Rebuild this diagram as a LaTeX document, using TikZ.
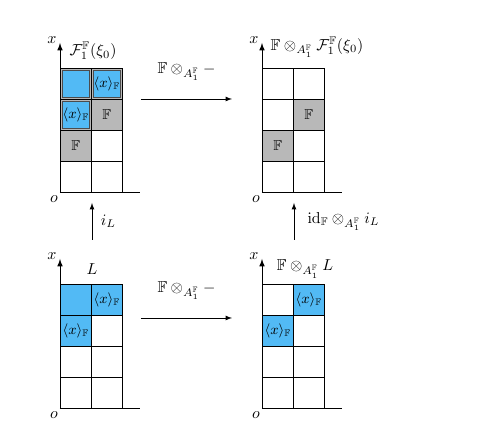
\documentclass[tikz,border=0pt]{standalone}
\usepackage{amsmath,amssymb}
\definecolor{cellblue}{RGB}{82,186,245}
\definecolor{cellgray}{RGB}{184,184,184}
\begin{document}
\begin{tikzpicture}[x=0.63pt,y=-0.63pt,
    cellbox/.style={draw=black,line width=0.4pt,minimum size=19.53pt,inner sep=0pt,anchor=north west,font=\small},
    bluecell/.style={cellbox,fill=cellblue},
    graycell/.style={cellbox,fill=cellgray},
    insetcell/.style={draw=black!70,fill=cellblue,line width=0.4pt,minimum size=17pt,inner sep=0pt,font=\small},
    axisline/.style={line width=0.6pt}]
    \useasboundingbox (0,0) rectangle (500,445);

    % four grids: name / left edge / top edge
    \foreach \g/\ox/\oy in {tl/60/68, tr/262/68, bl/60/284, br/262/284}{
        \foreach \r in {0,...,3}
            \foreach \c in {0,1}
                \node[cellbox] (\g-\r-\c) at (\ox+31*\c,\oy+31*\r) {};
        \draw[axisline,-latex] (\ox,\oy+124) -- (\ox,\oy-25);
        \draw[axisline] (\ox,\oy+124) -- (\ox+80,\oy+124);
        \node (\g-x) at (\ox-8,\oy-28) {$x$};
        \node (\g-o) at (\ox-6,\oy+131) {$o$};
    }

    % top left
    \node[graycell] (tl-g00) at (tl-0-0.north west) {};
    \node[insetcell] (tl-b00) at (tl-g00.center) {};
    \node[graycell] (tl-g01) at (tl-0-1.north west) {};
    \node[insetcell] (tl-b01) at (tl-g01.center) {$\langle x\rangle_{\mathbb{F}}$};
    \node[graycell] (tl-g10) at (tl-1-0.north west) {};
    \node[insetcell] (tl-b10) at (tl-g10.center) {$\langle x\rangle_{\mathbb{F}}$};
    \node[graycell] (tl-g11) at (tl-1-1.north west) {$\mathbb{F}$};
    \node[graycell] (tl-g20) at (tl-2-0.north west) {$\mathbb{F}$};

    % top right
    \node[graycell] (tr-g11) at (tr-1-1.north west) {$\mathbb{F}$};
    \node[graycell] (tr-g20) at (tr-2-0.north west) {$\mathbb{F}$};

    % bottom left
    \node[bluecell] (bl-b00) at (bl-0-0.north west) {};
    \node[bluecell] (bl-b01) at (bl-0-1.north west) {$\langle x\rangle_{\mathbb{F}}$};
    \node[bluecell] (bl-b10) at (bl-1-0.north west) {$\langle x\rangle_{\mathbb{F}}$};

    % bottom right
    \node[bluecell] (br-b01) at (br-0-1.north west) {$\langle x\rangle_{\mathbb{F}}$};
    \node[bluecell] (br-b10) at (br-1-0.north west) {$\langle x\rangle_{\mathbb{F}}$};

    % titles
    \node (tl-title) at (93,51) {$\mathcal{F}_1^{\mathbb{F}}(\xi_0)$};
    \node (tr-title) at (317,47) {$\mathbb{F}\otimes_{A_1^{\mathbb{F}}}\mathcal{F}_1^{\mathbb{F}}(\xi_0)$};
    \node (bl-title) at (92,269) {$L$};
    \node (br-title) at (305,269) {$\mathbb{F}\otimes_{A_1^{\mathbb{F}}} L$};

    % maps
    \coordinate (top-a) at (141,99);
    \coordinate (top-b) at (232,99);
    \coordinate (bot-a) at (141,318);
    \coordinate (bot-b) at (232,318);
    \coordinate (left-a) at (92,240);
    \coordinate (left-b) at (92,203);
    \coordinate (right-a) at (294,240);
    \coordinate (right-b) at (294,203);

    \draw[-latex] (top-a) -- (top-b) node[midway,above=8pt] {$\mathbb{F}\otimes_{A_1^{\mathbb{F}}}-$};
    \draw[-latex] (bot-a) -- (bot-b) node[midway,above=8pt] {$\mathbb{F}\otimes_{A_1^{\mathbb{F}}}-$};
    \draw[-latex] (left-a) -- (left-b) node[midway,right=2pt] {$i_L$};
    \draw[-latex] (right-a) -- (right-b) node[midway,right=5pt] {$\mathrm{id}_{\mathbb{F}}\otimes_{A_1^{\mathbb{F}}} i_L$};
\end{tikzpicture}
\end{document}
